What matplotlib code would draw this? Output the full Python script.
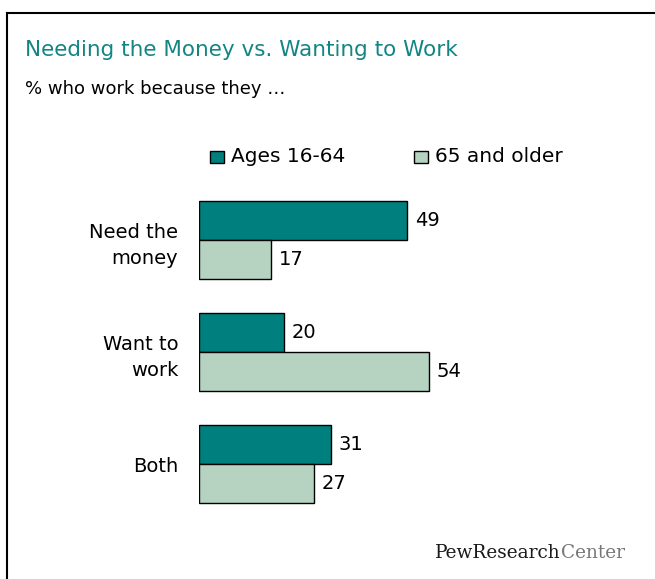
import matplotlib.pyplot as plt
from matplotlib.patches import Rectangle
from matplotlib.lines import Line2D
import numpy as np

categories = ['Need the\nmoney', 'Want to\nwork', 'Both']
ages_16_64 = [49, 20, 31]
older_65 = [17, 54, 27]
series_names = ['Ages 16-64', '65 and older']

teal = '#007f7f'
sage = '#b5d3c0'
title_col = '#138585'

W, H = 655, 579
fig = plt.figure(figsize=(W / 100, H / 100), dpi=100)

def fx(px):
    return px / W

def fy(py):
    return 1 - py / H

# frame (top and left only)
fig.add_artist(Line2D([fx(7), 1], [fy(13), fy(13)], color='black', lw=1.5))
fig.add_artist(Line2D([fx(7), fx(7)], [fy(13), 0], color='black', lw=1.5))

fig.text(fx(25), fy(50), 'Needing the Money vs. Wanting to Work', color=title_col,
         fontsize=15.5, va='center', ha='left')
fig.text(fx(25), fy(89), '% who work because they \u2026', color='black',
         fontsize=13, va='center', ha='left')

ax = fig.add_axes([fx(199), fy(520), fx(425), 336 / H])
y = np.arange(len(categories))
h = 0.345
ax.barh(y - h / 2, ages_16_64, height=h, color=teal, edgecolor='black', lw=1)
ax.barh(y + h / 2, older_65, height=h, color=sage, edgecolor='black', lw=1)
for i in range(len(categories)):
    ax.text(ages_16_64[i] + 1.9, y[i] - h / 2, str(ages_16_64[i]), va='center',
            ha='left', fontsize=14)
    ax.text(older_65[i] + 1.9, y[i] + h / 2, str(older_65[i]), va='center',
            ha='left', fontsize=14)
ax.set_xlim(0, 100)
ax.set_ylim(2.5, -0.5)
ax.set_yticks(y)
ax.set_yticklabels(categories, fontsize=14, ha='right', multialignment='right',
                   linespacing=1.5)
ax.tick_params(axis='y', length=0, pad=15)
ax.set_xticks([])
for s in ax.spines.values():
    s.set_visible(False)

# legend
for (x0, name, col) in [(210, series_names[0], teal), (414, series_names[1], sage)]:
    fig.add_artist(Rectangle((fx(x0), fy(163)), fx(14), 12 / H, facecolor=col,
                             edgecolor='black', lw=1, transform=fig.transFigure))
    fig.text(fx(x0 + 21), fy(157), name, fontsize=14.5, va='center', ha='left')

# logo
t = fig.text(fx(435), fy(553), 'PewResearch', fontsize=13.3, family='DejaVu Serif',
             color='#1a1a1a', va='center', ha='left')
fig.canvas.draw()
bb = t.get_window_extent()
fig.text(bb.x1 / W, fy(553), 'Center', fontsize=13.3, family='DejaVu Serif',
         color='#777777', va='center', ha='left')

fig.savefig('out.png', dpi=100)
